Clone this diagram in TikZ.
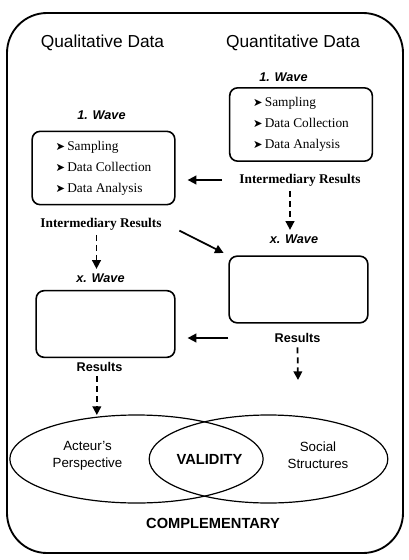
\documentclass[tikz,border=0pt]{standalone}
\usepackage{fontspec}
\setmainfont{Liberation Serif}
\setsansfont{Liberation Sans}
\newfontfamily\symfont{DejaVu Sans}
\usetikzlibrary{arrows.meta,shapes.geometric}
\newcommand{\bul}{{\symfont\fontsize{8.5}{8.5}\selectfont ➤}\,}

\begin{document}
\begin{tikzpicture}[x=0.75pt,y=-0.75pt,
  head/.style={font=\sffamily\fontsize{13}{15}\selectfont},
  wave/.style={font=\sffamily\bfseries\itshape\fontsize{9.5}{11}\selectfont},
  inter/.style={font=\rmfamily\bfseries\fontsize{10}{12}\selectfont},
  res/.style={font=\sffamily\bfseries\fontsize{9.5}{11}\selectfont},
  stepbox/.style={draw,line width=1.2pt,rounded corners=6pt,minimum width=107pt,minimum height=55pt,align=left,font=\rmfamily\fontsize{10}{15.75}\selectfont},
  emptybox/.style={draw,line width=1.2pt,rounded corners=6pt,minimum width=104pt,minimum height=50pt},
  ell/.style={draw,ellipse,line width=0.9pt,minimum height=66pt},
  arr/.style={line width=1.3pt,-{Triangle[length=6.5pt,width=6.5pt]}},
  darr/.style={arr,dash pattern=on 4.5pt off 3pt}]
\useasboundingbox (0,0) rectangle (409,560);
\draw[line width=1.4pt,rounded corners=30pt] (7,13) rectangle (403,553);

\node[head] (qlhead) at (102.5,43) {Qualitative Data};
\node[head] (qnhead) at (293,43) {Quantitative Data};

% first wave
\node[wave] (qnwave) at (283.5,77) {1. Wave};
\node[stepbox] (qnbox) at (301,124.5) {\bul Sampling\\ \bul Data Collection\\ \bul Data Analysis};
\node[wave] (qlwave) at (101.5,115) {1. Wave};
\node[stepbox] (qlbox) at (103.5,168) {\bul Sampling\\ \bul Data Collection\\ \bul Data Analysis};

\node[inter] (qnint) at (300,180) {Intermediary Results};
\node[inter] (qlint) at (101,224) {Intermediary Results};

% x. wave
\node[wave] (qnxwave) at (294,239) {x. Wave};
\node[emptybox] (qnxbox) at (298.5,289.5) {};
\node[wave] (qlxwave) at (100.5,278) {x. Wave};
\node[emptybox] (qlxbox) at (105.5,324) {};

\node[res] (qnres) at (297.5,338) {Results};
\node[res] (qlres) at (99.5,367) {Results};
\coordinate (qnend) at (298,380);

\draw[arr,shorten <=9.5pt,shorten >=9pt] (qnint.west) -- (qnint.west -| qlbox.east);
\draw[darr] ([xshift=-3pt]qnint.south -| qnxwave.north) -- ([xshift=-3pt]qnxwave.north);
\draw[arr,shorten <=11pt,shorten >=4pt] (qlint.east) -- (qnxbox.north west);
\draw[darr] ([xshift=-3pt]qlint.south -| qlxwave.north) -- ([xshift=-3pt]qlxwave.north);
\draw[arr,shorten >=9pt] (qnres.west -| qnxbox.west) -- (qnres.west -| qlxbox.east);
\draw[darr] (qnres.south) -- (qnend);
\draw[darr] ([xshift=-2pt]qlres.south) -- ([xshift=-2pt]qlres.south |- 0,415);

% complementary views
\node[ell,minimum width=190pt] (ellL) at (136.5,459) {};
\node[ell,minimum width=179pt] (ellR) at (268.5,459) {};
\node[align=center,font=\sffamily\fontsize{10}{12.75}\selectfont] (actor) at (87.5,455.5) {Acteur's\\Perspective};
\node[align=center,font=\sffamily\fontsize{10}{12.75}\selectfont] (social) at (318,455.5) {Social\\Structures};
\node[font=\sffamily\bfseries\fontsize{11}{13}\selectfont] (valid) at (209.5,459) {VALIDITY};
\node[font=\sffamily\bfseries\fontsize{11}{13}\selectfont] (compl) at (213,523) {COMPLEMENTARY};

\end{tikzpicture}
\end{document}
